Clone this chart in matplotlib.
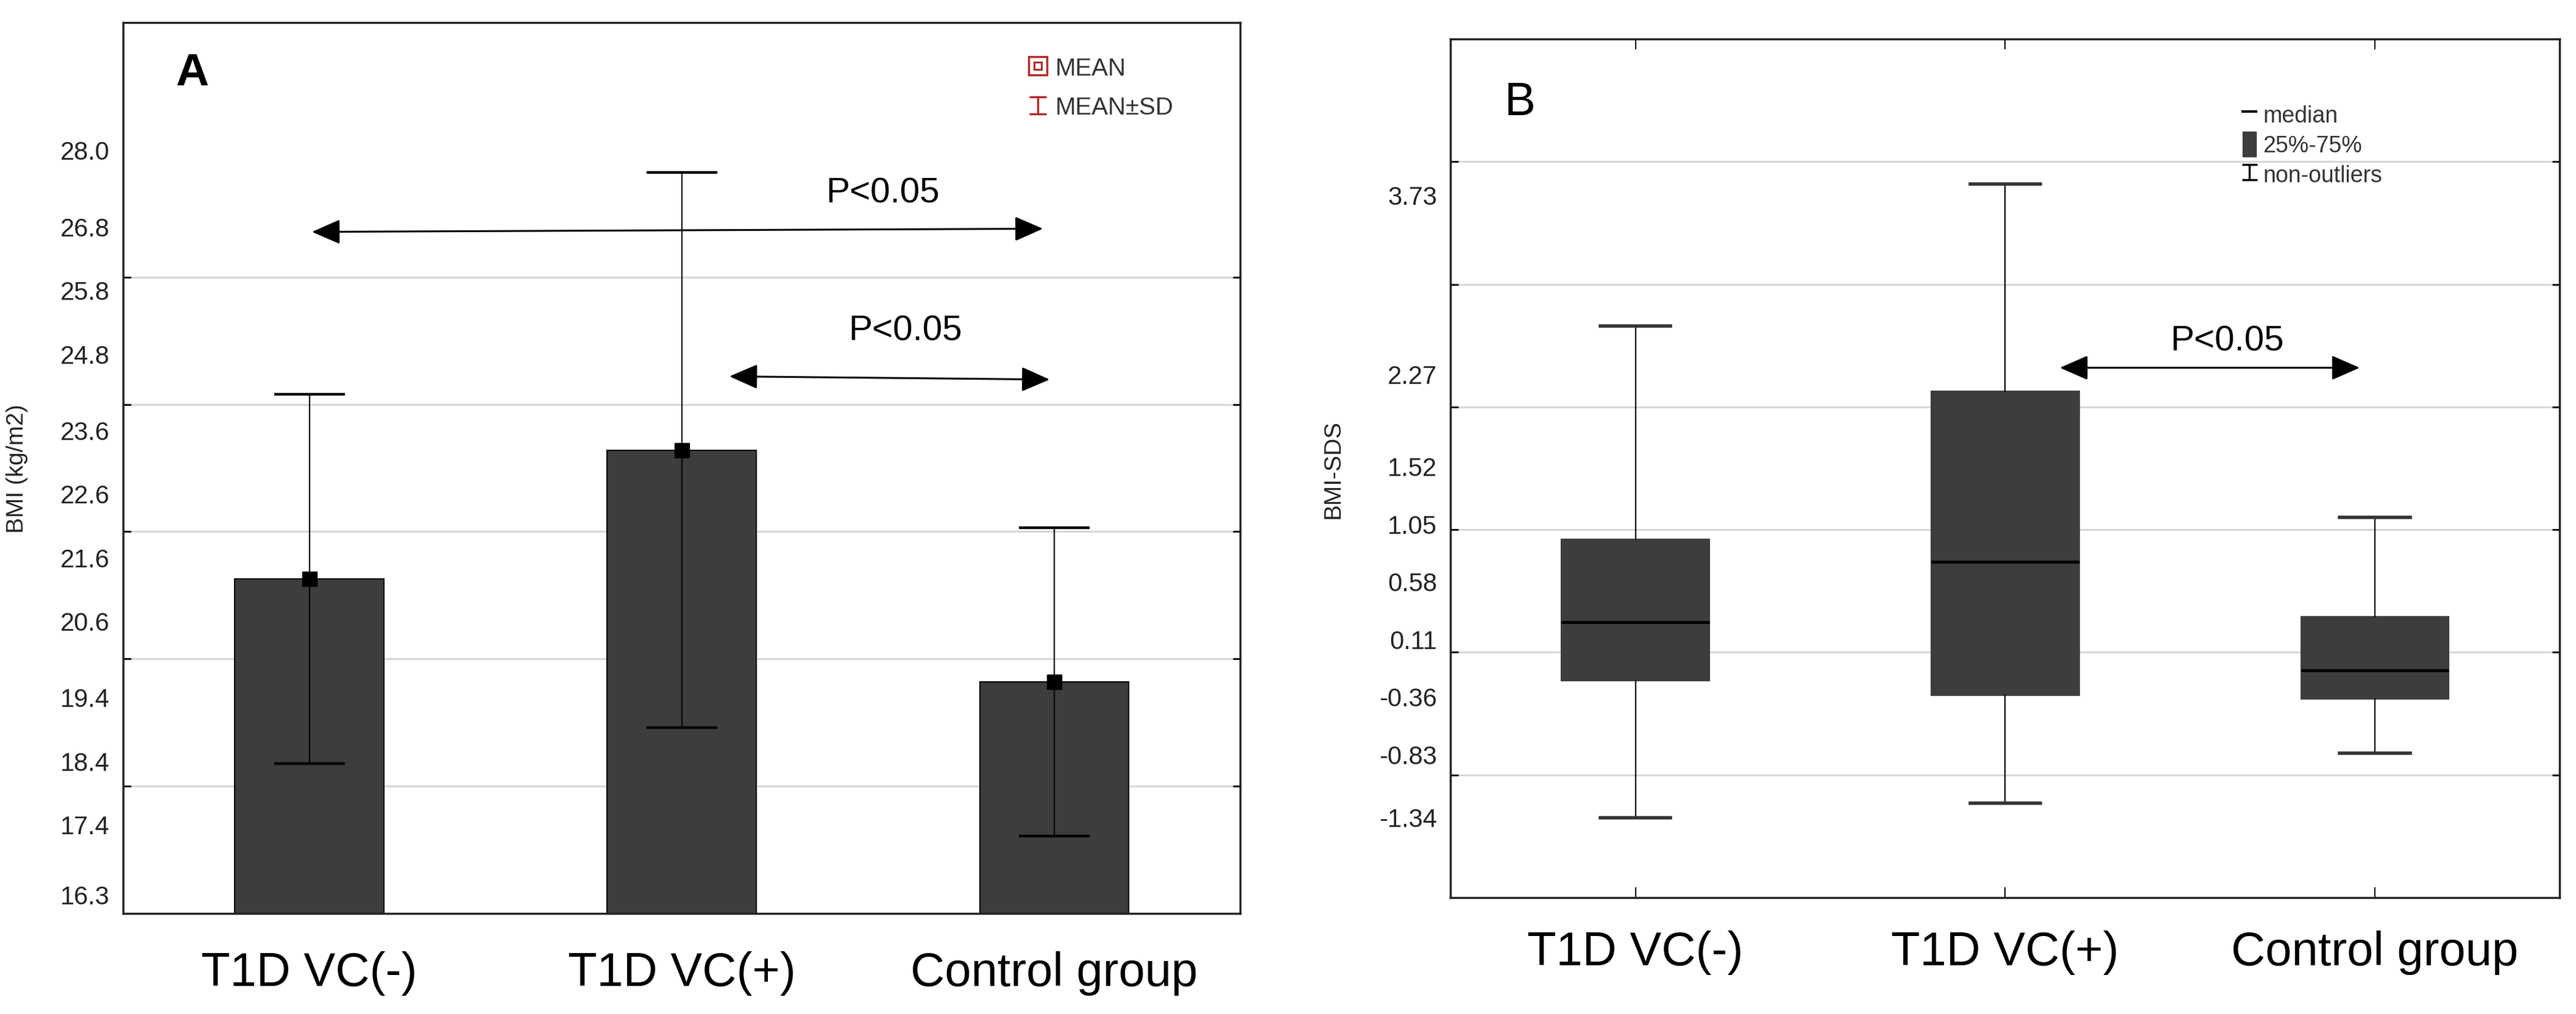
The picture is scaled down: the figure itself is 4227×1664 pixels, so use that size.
import matplotlib
matplotlib.use("Agg")
import matplotlib.pyplot as plt
import numpy as np
from matplotlib.lines import Line2D
from matplotlib.patches import Patch
from matplotlib.path import Path

plt.rcParams['font.family'] = ['Liberation Sans', 'DejaVu Sans']

# --- data ---
groups = ['T1D VC(-)', 'T1D VC(+)', 'Control group']

# panel A: BMI mean and SD
bmi_mean = [21.26, 23.28, 19.64]
bmi_sd = [2.90, 4.36, 2.42]
bmi_ticks = [16.3, 17.4, 18.4, 19.4, 20.6, 21.6, 22.6, 23.6, 24.8, 25.8, 26.8, 28.0]
bmi_grid = [18, 20, 22, 24, 26, 28]

# panel B: BMI-SDS box plot
sds_whislo = [-1.35, -1.23, -0.82]
sds_q1 = [-0.23, -0.35, -0.38]
sds_med = [0.245, 0.74, -0.145]
sds_q3 = [0.92, 2.13, 0.29]
sds_whishi = [2.66, 3.82, 1.10]
sds_ticks = [-1.34, -0.83, -0.36, 0.11, 0.58, 1.05, 1.52, 2.27, 3.73]
sds_grid = [-1, 0, 1, 2, 3, 4]

# significance arrows: (x start, x end, y start, y end, text x, text y)
arrows_a = [(0.007, 1.970, 26.71, 26.76, 1.54, 27.32),
            (1.128, 1.988, 24.44, 24.39, 1.60, 25.16)]
arrows_b = [(1.148, 1.959, 2.32, 2.32, 1.60, 2.54)]

bar_col = '#3d3d3d'
grid_col = '#d6d6d6'
red = '#b02a2a'
ibeam = Path([(-1, 1), (1, 1), (0, 1), (0, -1), (-1, -1), (1, -1)],
             [Path.MOVETO, Path.LINETO, Path.MOVETO, Path.LINETO, Path.MOVETO, Path.LINETO])

fig = plt.figure(figsize=(42.27, 16.65), dpi=100)
axA = fig.add_axes([0.0478, 0.0991, 0.4337, 0.8781])
axB = fig.add_axes([0.5631, 0.1147, 0.4306, 0.8462])

x = np.arange(len(groups))


def style_axis(ax, ticks, grid, ylim, fmt):
    ax.set_xlim(-0.5, 2.5)
    ax.set_ylim(*ylim)
    ax.set_yticks(ticks)
    ax.set_yticklabels([fmt.format(t) for t in ticks])
    ax.set_yticks(grid, minor=True)
    ax.grid(True, which='minor', axis='y', color=grid_col, lw=2.2, zorder=0)
    ax.set_axisbelow(True)
    ax.tick_params(axis='y', which='major', length=0, pad=16, labelsize=30, labelcolor='#222222')
    ax.tick_params(axis='y', which='minor', direction='in', length=9, width=2,
                   left=True, right=True)
    ax.set_xticks(x)
    ax.set_xticklabels(groups)
    for s in ax.spines.values():
        s.set_linewidth(2.5)
        s.set_color('#222222')


# ---------------- panel A ----------------
style_axis(axA, bmi_ticks, bmi_grid, (16, 30), '{:.1f}')
axA.bar(x, bmi_mean, width=0.4, color=bar_col, edgecolor='black', lw=1.5, zorder=2)
axA.errorbar(x, bmi_mean, yerr=bmi_sd, fmt='s', color='black', ms=17,
             capsize=42, elinewidth=1.6, capthick=3.2, zorder=3)
axA.tick_params(axis='x', length=0, pad=44, labelsize=56)
axA.set_ylabel('BMI (kg/m2)', fontsize=28, color='#222222')
axA.yaxis.set_label_coords(-0.085, 0.5)
axA.text(-0.315, 29.21, 'A', fontsize=54, fontweight='bold', ha='center', va='center')

mean_handle = (
    Line2D([], [], ls='none', marker='s', ms=21, mfc='none', mec=red, mew=2.5),
    Line2D([], [], ls='none', marker='s', ms=9, mfc='none', mec=red, mew=2.2),
)
sd_handle = Line2D([], [], ls='none', marker=ibeam, ms=20, mfc='none', mec=red, mew=2.5)
la = axA.legend([mean_handle, sd_handle], ['MEAN', 'MEAN±SD'], loc='upper left',
                bbox_to_anchor=(0.81, 0.962), frameon=False, fontsize=29,
                handlelength=0.8, handletextpad=0.3, labelspacing=0.65,
                borderpad=0, borderaxespad=0)
for t in la.get_texts():
    t.set_color('#333333')

for x0, x1, y0, y1, tx, ty in arrows_a:
    axA.annotate('', xy=(x1, y1), xytext=(x0, y0),
                 arrowprops=dict(arrowstyle='<|-|>,head_length=0.8,head_width=0.35',
                                 mutation_scale=36, lw=2.2, color='black',
                                 shrinkA=0, shrinkB=0), zorder=4)
    axA.text(tx, ty, 'P<0.05', fontsize=42, ha='center', va='center')

# ---------------- panel B ----------------
style_axis(axB, sds_ticks, sds_grid, (-2, 5), '{:.2f}')
stats = [dict(whislo=lo, q1=a, med=m, q3=b, whishi=hi, fliers=[])
         for lo, a, m, b, hi in zip(sds_whislo, sds_q1, sds_med, sds_q3, sds_whishi)]
axB.bxp(stats, positions=x, widths=0.4, patch_artist=True, showfliers=False,
        capwidths=0.19,
        boxprops=dict(facecolor=bar_col, edgecolor=bar_col, lw=1.5),
        medianprops=dict(color='black', lw=3.5),
        whiskerprops=dict(color='black', lw=1.6),
        capprops=dict(color='#333333', lw=4), zorder=2)
axB.set_xticks(x)
axB.set_xticklabels(groups)
axB.tick_params(axis='x', direction='in', length=12, width=1.5, top=True,
                pad=38, labelsize=56)
axB.set_ylabel('BMI-SDS', fontsize=28, color='#222222')
axB.yaxis.set_label_coords(-0.096, 0.5)
axB.text(-0.312, 4.48, 'B', fontsize=55, ha='center', va='center')

leg_b = [
    Line2D([], [], color='black', lw=3),
    Patch(facecolor=bar_col, edgecolor=bar_col),
    Line2D([], [], ls='none', marker=ibeam, ms=18, mfc='none', mec='black', mew=2.5),
]
lb = axB.legend(leg_b, ['median', '25%-75%', 'non-outliers'], loc='upper left',
                bbox_to_anchor=(0.714, 0.927), frameon=False, fontsize=27,
                handlelength=0.6, handleheight=1.3, handletextpad=0.3,
                labelspacing=0.22, borderpad=0, borderaxespad=0)
for t in lb.get_texts():
    t.set_color('#333333')

for x0, x1, y0, y1, tx, ty in arrows_b:
    axB.annotate('', xy=(x1, y1), xytext=(x0, y0),
                 arrowprops=dict(arrowstyle='<|-|>,head_length=0.8,head_width=0.35',
                                 mutation_scale=36, lw=2.2, color='black',
                                 shrinkA=0, shrinkB=0), zorder=4)
    axB.text(tx, ty, 'P<0.05', fontsize=42, ha='center', va='center')

fig.savefig('out.png', dpi=100)
